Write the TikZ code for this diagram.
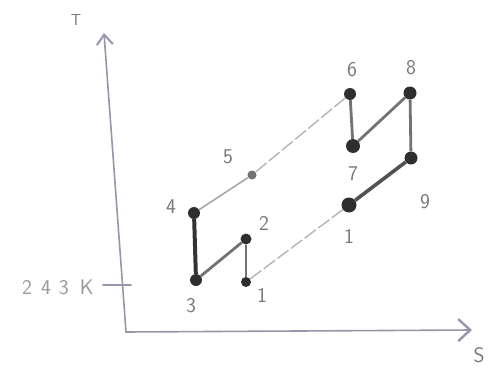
\documentclass[tikz,border=0pt]{standalone}
\usetikzlibrary{arrows.meta}
\definecolor{pencil}{RGB}{150,150,170}
\definecolor{labgray}{RGB}{120,120,125}
\begin{document}
\begin{tikzpicture}[x=1pt,y=-1pt,
  axis/.style={draw=pencil, line width=1.6pt, line cap=round},
  dot/.style={circle, fill=black!82, inner sep=0pt, minimum size=12pt},
  smalldot/.style={circle, fill=black!55, inner sep=0pt, minimum size=9pt},
  lab/.style={text=labgray, font=\sffamily\fontsize{21}{21}\selectfont},
  thick1/.style={draw=black!80, line width=4pt},
  mid/.style={draw=black!55, line width=2.8pt},
  thin1/.style={draw=black!35, line width=1.6pt},
  dash1/.style={draw=black!28, line width=1.5pt, dash pattern=on 14pt off 3pt}]
\useasboundingbox (0,0) rectangle (488,375);
% axes
\coordinate (O) at (126,332);
\coordinate (Ytop) at (104,33);
\coordinate (Xend) at (472,330);
\coordinate (TickL) at (103,285);
\coordinate (TickR) at (131,285);
\draw[axis, -{Straight Barb[length=10pt,width=16pt,line width=2pt]}] (O) -- (Ytop);
\draw[axis, -{Straight Barb[length=12pt,width=22pt,line width=2.4pt]}] (O) -- (Xend);
\draw[axis] (TickL) -- (TickR);
\node[lab, font=\sffamily\fontsize{16}{16}\selectfont] (T) at (76,20) {T};
\node[lab] (S) at (479,355) {S};
\node[lab, text=black!40, anchor=east] (K) at (97,287) {2\hspace{9pt}4\hspace{8pt}3\hspace{11pt}K};
% points
\node[dot] (p3) at (196,280) {};
\node[dot] (p4) at (194,213) {};
\node[smalldot] (p5) at (252,175) {};
\node[dot, minimum size=11pt] (p2) at (246,239) {};
\node[dot, minimum size=10pt] (p1a) at (246,282) {};
\node[dot, minimum size=15pt] (p1b) at (349,205) {};
\node[dot, minimum size=13pt] (p9) at (411,158) {};
\node[dot, minimum size=13pt] (p8) at (410,93) {};
\node[dot, minimum size=12pt] (p6) at (350,94) {};
\node[dot, minimum size=14pt] (p7) at (353,146) {};
% connectors
\draw[thick1] (p4) -- (p3);
\draw[mid] (p3) -- (p2);
\draw[mid] (p2) -- (p1a);
\draw[dash1] (p1a) -- (p1b);
\draw[draw=black!68, line width=3.6pt] (p1b) -- (p9);
\draw[mid] (p9) -- (p8);
\draw[mid] (p8) -- (p7);
\draw[mid] (p7) -- (p6);
\draw[dash1] (p6) -- (p5);
\draw[thin1] (p5) -- (p4);
% labels
\node[lab] (l3) at (191,306) {3};
\node[lab] (l4) at (171,207) {4};
\node[lab] (l5) at (228,157) {5};
\node[lab] (l2) at (264,223) {2};
\node[lab] (l1a) at (262,295) {1};
\node[lab] (l1b) at (349,236) {1};
\node[lab] (l7) at (353,174) {7};
\node[lab] (l9) at (425,202) {9};
\node[lab] (l6) at (352,70) {6};
\node[lab] (l8) at (411,68) {8};
\end{tikzpicture}
\end{document}
